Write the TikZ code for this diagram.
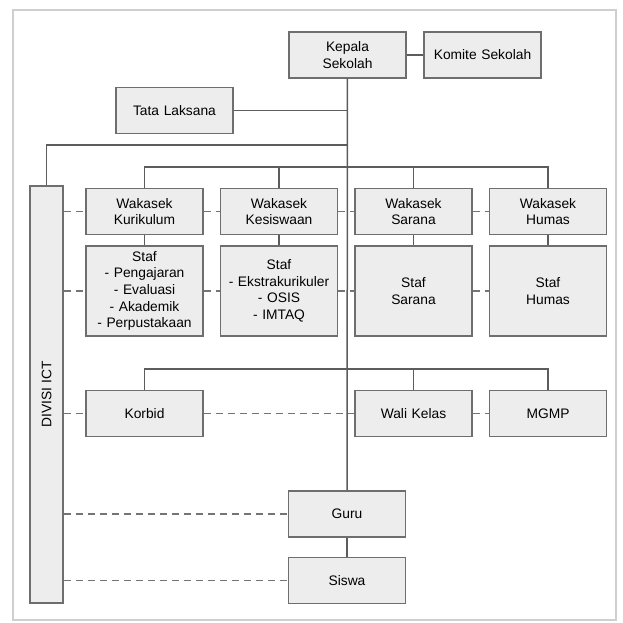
\documentclass[tikz,border=0pt]{standalone}
\usepackage{fontspec}
\setmainfont{Liberation Sans}
\usetikzlibrary{positioning}
\definecolor{boxfill}{HTML}{EDEDED}
\definecolor{boxline}{HTML}{6E6E6E}
\definecolor{linkline}{HTML}{5C5C5C}
\definecolor{framegray}{HTML}{CFCFCF}
\begin{document}
\begin{tikzpicture}[x=1pt, y=-1pt, node distance=134.5pt, thick]
\tikzstyle{block} = [rectangle, draw=boxline, fill=boxfill, line width=1.5pt, text width=117pt, inner sep=0pt,
                     align=center, minimum height=46pt, font=\fontsize{13.8}{16.6}\selectfont]
\tikzstyle{tallblock} = [block, minimum height=90pt]
\tikzstyle{line} = [draw=linkline, line width=1.5pt]
\tikzstyle{dashline} = [draw=linkline!85, line width=1.5pt, dash pattern=on 7pt off 5pt]

\useasboundingbox (0,0) rectangle (622,623);
\draw [framegray, line width=1.5pt] (13,10) rectangle (616,620);

\node [block] (kepala) at (347.5,55) {Kepala\\Sekolah};
\node [block, right of=kepala, node distance=135pt] (komite) {Komite Sekolah};
\node [block] (tata) at (174.5,110.5) {Tata Laksana};

\node [block] (wkur) at (144.5,211.5) {Wakasek\\Kurikulum};
\node [block, right of=wkur] (wkes) {Wakasek\\Kesiswaan};
\node [block, right of=wkes] (wsar) {Wakasek\\Sarana};
\node [block, right of=wsar] (whum) {Wakasek\\Humas};

\node [tallblock, below of=wkur, node distance=79.5pt] (skur) {Staf\\- Pengajaran\\- Evaluasi\\- Akademik\\- Perpustakaan};
\node [tallblock, below of=wkes, node distance=79.5pt] (skes) {Staf\\- Ekstrakurikuler\\- OSIS\\- IMTAQ};
\node [tallblock, below of=wsar, node distance=79.5pt] (ssar) {Staf\\Sarana};
\node [tallblock, below of=whum, node distance=79.5pt] (shum) {Staf\\Humas};

\node [block] (korbid) at (144.5,413.5) {Korbid};
\node [block, right of=korbid, node distance=269pt] (wali) {Wali Kelas};
\node [block, right of=wali] (mgmp) {MGMP};

\node [block] (guru) at (347,514) {Guru};
\node [block, below of=guru, node distance=66.5pt] (siswa) {Siswa};

\node [rectangle, draw=boxline, fill=boxfill, line width=1.5pt, minimum width=33pt, minimum height=417pt,
       inner sep=0pt, font=\fontsize{13.8}{16.6}\selectfont] (ict) at (46.5,394.5) {\rotatebox{90}{DIVISI ICT}};

\coordinate (ictbar) at (347,145);
\coordinate (wbar) at (347,167);
\coordinate (kbar) at (347,369);

% garis komando
\path [line] (kepala) -- (komite);
\path [line] (kepala) -- (guru);
\path [line] (tata) -- (tata -| kepala);
\path [line] (ict) |- (ictbar);
\path [line] (wkur.north) |- (wbar) -| (whum.north);
\path [line] (wkes.north) -- (wkes.north |- wbar);
\path [line] (wsar.north) -- (wsar.north |- wbar);
\path [line] (korbid.north) |- (kbar) -| (mgmp.north);
\path [line] (wali.north) -- (wali.north |- kbar);
\path [line] (wkur) -- (skur);
\path [line] (wkes) -- (skes);
\path [line] (wsar) -- (ssar);
\path [line] (whum) -- (shum);
\path [line] (guru) -- (siswa);

% garis koordinasi
\path [dashline] (ict.east |- wkur) -- (wkur);
\path [dashline] (wkur) -- (wkes);
\path [dashline] (wkes) -- (wsar);
\path [dashline] (wsar) -- (whum);
\path [dashline] (ict.east |- skur) -- (skur);
\path [dashline] (skur) -- (skes);
\path [dashline] (skes) -- (ssar);
\path [dashline] (ssar) -- (shum);
\path [dashline] (ict.east |- korbid) -- (korbid);
\path [dashline] (korbid) -- (wali);
\path [dashline] (wali) -- (mgmp);
\path [dashline] (ict.east |- guru) -- (guru);
\path [dashline] (ict.east |- siswa) -- (siswa);
\end{tikzpicture}
\end{document}
